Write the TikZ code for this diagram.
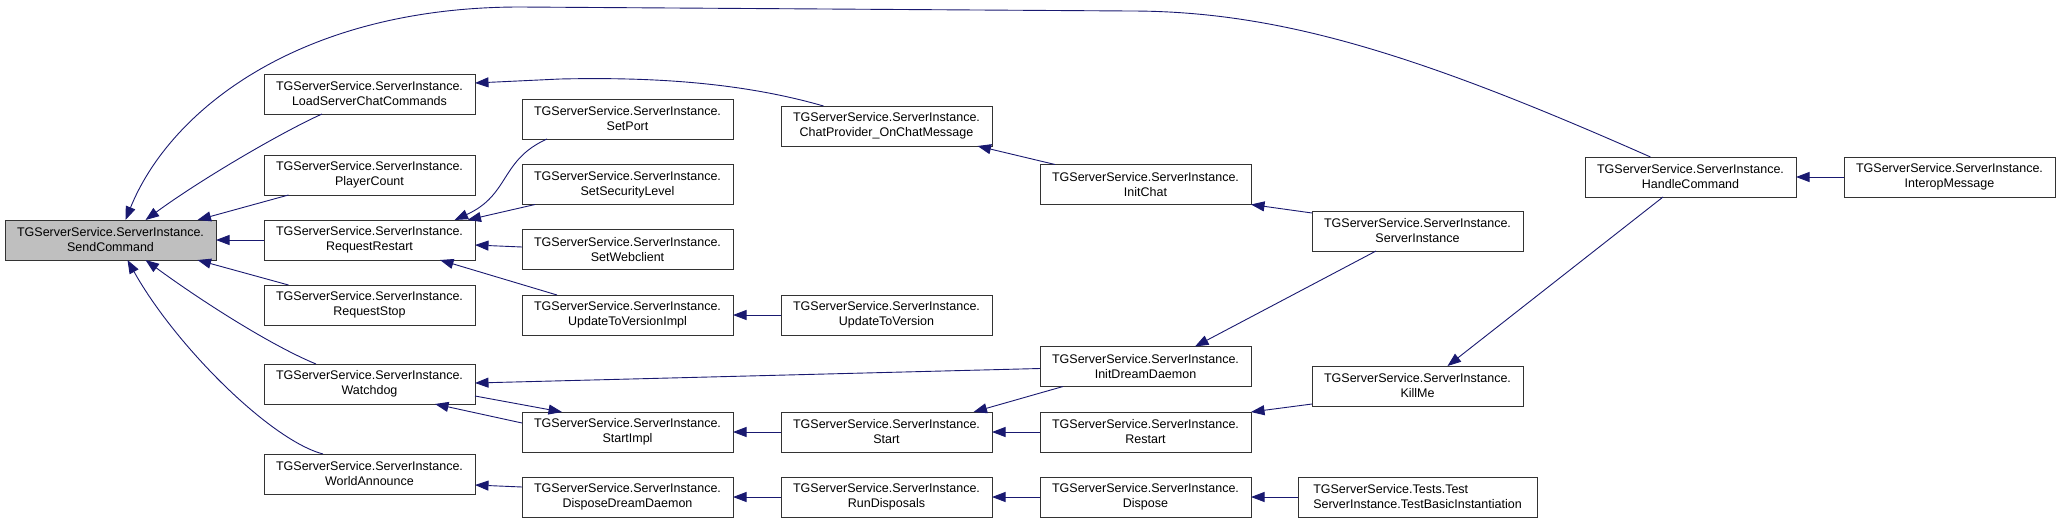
\documentclass[tikz,border=0pt]{standalone}
\usepackage{fontspec}
\setmainfont{Liberation Sans}
\usepackage{tikz}
\usetikzlibrary{arrows.meta, positioning}
\definecolor{callblue}{HTML}{191970}
\definecolor{focusgray}{HTML}{BFBFBF}

\begin{document}
\begin{tikzpicture}[
  x=1pt, y=-1pt,
  node distance=48pt,
  fn/.style={draw=black!80, line width=0.9pt, minimum width=211pt,
             minimum height=40pt, inner sep=0pt, outer sep=0pt,
             align=center, font=\fontsize{12.5}{15}\selectfont},
  arr/.style={-{Triangle[length=13.5pt,width=10pt]}, line width=0.9pt, callblue}
]
\useasboundingbox (0,0) rectangle (2060,525);

\node[fn, fill=focusgray] (send) at (110.5,240)
  {TGServerService.ServerInstance.\\SendCommand};

\node[fn] (lscc) at (369.5,94)
  {TGServerService.ServerInstance.\\LoadServerChatCommands};
\node[fn] (pcount) at (369.5,175)
  {TGServerService.ServerInstance.\\PlayerCount};
\node[fn, right=of send] (rrestart)
  {TGServerService.ServerInstance.\\RequestRestart};
\node[fn] (rstop) at (369.5,305)
  {TGServerService.ServerInstance.\\RequestStop};
\node[fn] (wdog) at (369.5,384)
  {TGServerService.ServerInstance.\\Watchdog};
\node[fn] (wann) at (369.5,474)
  {TGServerService.ServerInstance.\\WorldAnnounce};

\node[fn] (setport) at (627.5,119)
  {TGServerService.ServerInstance.\\SetPort};
\node[fn] (setsec) at (627.5,184.5)
  {TGServerService.ServerInstance.\\SetSecurityLevel};
\node[fn] (setweb) at (627.5,249.5)
  {TGServerService.ServerInstance.\\SetWebclient};
\node[fn] (utvi) at (627.5,315)
  {TGServerService.ServerInstance.\\UpdateToVersionImpl};
\node[fn] (startimpl) at (627.5,432)
  {TGServerService.ServerInstance.\\StartImpl};
\node[fn] (ddd) at (627.5,497)
  {TGServerService.ServerInstance.\\DisposeDreamDaemon};

\node[fn] (chatmsg) at (886.5,126)
  {TGServerService.ServerInstance.\\ChatProvider\_OnChatMessage};
\node[fn, right=of utvi] (utv)
  {TGServerService.ServerInstance.\\UpdateToVersion};
\node[fn, right=of startimpl] (start)
  {TGServerService.ServerInstance.\\Start};
\node[fn, right=of ddd] (rdisp)
  {TGServerService.ServerInstance.\\RunDisposals};

\node[fn] (initchat) at (1145.5,184.5)
  {TGServerService.ServerInstance.\\InitChat};
\node[fn] (idd) at (1145.5,366.5)
  {TGServerService.ServerInstance.\\InitDreamDaemon};
\node[fn, right=of start] (restart)
  {TGServerService.ServerInstance.\\Restart};
\node[fn, right=of rdisp] (dispose)
  {TGServerService.ServerInstance.\\Dispose};

\node[fn] (sinst) at (1417.5,231)
  {TGServerService.ServerInstance.\\ServerInstance};
\node[fn] (killme) at (1417.5,386)
  {TGServerService.ServerInstance.\\KillMe};
\node[fn, minimum width=239pt, align=left, right=47pt of dispose] (tbi)
  {TGServerService.Tests.Test\\ServerInstance.TestBasicInstantiation};

\node[fn] (hcmd) at (1690.5,177)
  {TGServerService.ServerInstance.\\HandleCommand};
\node[fn, right=of hcmd] (imsg)
  {TGServerService.ServerInstance.\\InteropMessage};

\draw[arr] ([xshift=-40pt]hcmd.north) .. controls (1420,55) and (1280,11) .. (1130,11)
  -- (520,7) .. controls (300,7) and (170,110) .. ([xshift=15pt]send.north);
\draw[arr] ([xshift=-47.5pt]lscc.south) .. controls (280,133) and (200,180) .. ([xshift=35pt]send.north);
\draw[arr] ([xshift=-81pt]pcount.south) -- ([xshift=87pt]send.north);
\draw[arr] (rrestart) -- (send);
\draw[arr] ([xshift=-81pt]rstop.north) -- ([xshift=87pt]send.south);
\draw[arr] ([xshift=-53.5pt]wdog.north) .. controls (270,345) and (200,300) .. ([xshift=35pt]send.south);
\draw[arr] ([xshift=-46.5pt]wann.north) .. controls (270,440) and (175,345) .. ([xshift=17pt]send.south);

\draw[arr] ([xshift=-63pt]chatmsg.north) .. controls (740,82) and (650,77) .. (560,79)
  -- ([yshift=11pt]lscc.east);
\draw[arr] ([xshift=-80.5pt]setport.south) .. controls (500,160) and (510,195) .. ([xshift=85pt]rrestart.north);
\draw[arr] ([xshift=-92.5pt]setsec.south) -- ([xshift=98pt]rrestart.north);
\draw[arr] ([yshift=2.5pt]setweb.west) -- ([yshift=-5pt]rrestart.east);
\draw[arr] ([xshift=-70.5pt]utvi.north) -- ([xshift=70.5pt]rrestart.south);
\draw[arr] (utv) -- (utvi);

\draw[arr] ([xshift=-90.5pt]initchat.north) -- ([xshift=91pt]chatmsg.south);
\draw[arr] ([yshift=18pt]sinst.west) -- (initchat.south east);
\draw[arr] ([xshift=-41.5pt]sinst.south) -- ([xshift=49.5pt]idd.north);
\draw[arr] ([yshift=-2pt]idd.west) -- ([yshift=1pt]wdog.east);
\draw[arr] ([yshift=-12pt]wdog.east) -- ([xshift=-65.5pt]startimpl.north);
\draw[arr] ([yshift=9pt]startimpl.west) -- ([xshift=65.5pt]wdog.south);
\draw[arr] (start) -- (startimpl);
\draw[arr] ([xshift=-82.5pt]idd.south) -- ([xshift=87pt]start.north);
\draw[arr] (restart) -- (start);
\draw[arr] ([yshift=-18pt]killme.west) -- (restart.north east);
\draw[arr] ([xshift=-27.5pt]hcmd.south) -- ([xshift=30pt]killme.north);
\draw[arr] (imsg) -- (hcmd);

\draw[arr] ([yshift=10pt]ddd.west) -- ([yshift=-11pt]wann.east);
\draw[arr] (rdisp) -- (ddd);
\draw[arr] (dispose) -- (rdisp);
\draw[arr] (tbi) -- (dispose);

\end{tikzpicture}
\end{document}
